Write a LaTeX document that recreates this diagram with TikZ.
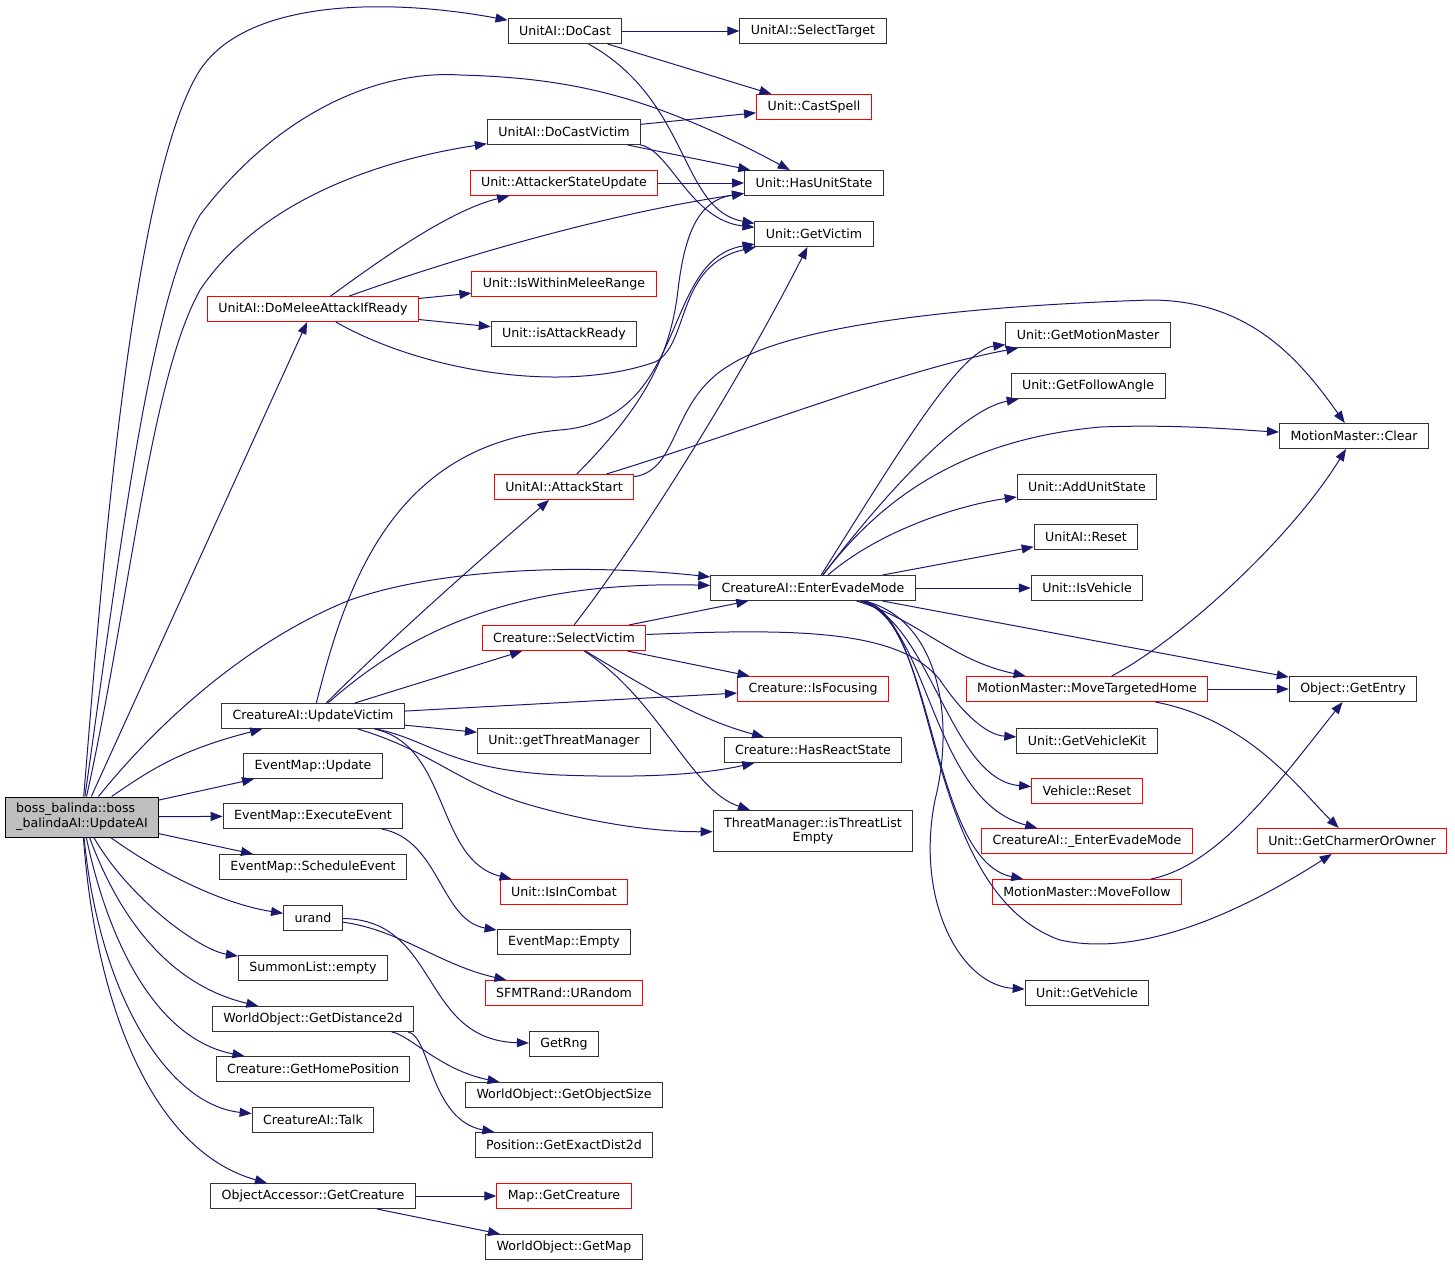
\documentclass[tikz,border=0pt]{standalone}
\usepackage{fontspec}
\setmainfont{DejaVu Sans}
\usetikzlibrary{arrows.meta,positioning}
\definecolor{edgeblue}{HTML}{191970}
\definecolor{rootgray}{HTML}{BFBFBF}
\tikzset{
  fn/.style={draw=black!80,line width=1pt,rectangle,inner xsep=11pt,inner ysep=0pt,
    minimum height=25pt,font=\fontsize{12.6}{15}\selectfont},
  fnred/.style={fn,draw=red},
  call/.style={draw=edgeblue,line width=1pt,-{Triangle[length=12pt,width=9pt]}}
}
\begin{document}
\begin{tikzpicture}[x=1pt,y=-1pt]
            \path[use as bounding box] (0,0) rectangle (1455,1267);

            \node [fn,fill=rootgray,draw=black,align=left,minimum height=40pt,inner xsep=10.5pt] (root) at (82,817)
                {boss\_balinda::boss\\\_balindaAI::UpdateAI};

            \node [fn] (docast) at (565,31) {UnitAI::DoCast};
            \node [fn] (selecttarget) at (813,31) {UnitAI::SelectTarget};
            \node [fnred] (castspell) at (814,107) {Unit::CastSpell};
            \node [fn] (docastvictim) at (564,132) {UnitAI::DoCastVictim};
            \node [fnred] (attackerstate) at (564,183) {Unit::AttackerStateUpdate};
            \node [fn] (hasunitstate) at (814,183) {Unit::HasUnitState};
            \node [fn] (getvictim) at (814,234) {Unit::GetVictim};
            \node [fnred] (domelee) at (313,309) {UnitAI::DoMeleeAttackIfReady};
            \node [fnred] (withinmelee) at (564,284) {Unit::IsWithinMeleeRange};
            \node [fn] (attackready) at (564,334) {Unit::isAttackReady};
            \node [fn] (getmotionmaster) at (1088,335) {Unit::GetMotionMaster};
            \node [fn] (followangle) at (1088,386) {Unit::GetFollowAngle};
            \node [fn] (mmclear) at (1354,436) {MotionMaster::Clear};
            \node [fn] (addunitstate) at (1087,487) {Unit::AddUnitState};
            \node [fn] (aireset) at (1086,537) {UnitAI::Reset};
            \node [fn] (isvehicle) at (1087,588) {Unit::IsVehicle};
            \node [fnred] (attackstart) at (564,487) {UnitAI::AttackStart};
            \node [fn] (evademode) at (813,588) {CreatureAI::EnterEvadeMode};
            \node [fnred] (selectvictim) at (564,638) {Creature::SelectVictim};
            \node [fnred] (isfocusing) at (813,689) {Creature::IsFocusing};
            \node [fn] (updatevictim) at (313,716) {CreatureAI::UpdateVictim};
            \node [fn] (threatmgr) at (564,741) {Unit::getThreatManager};
            \node [fn] (reactstate) at (813,750) {Creature::HasReactState};
            \node [fn,align=center,minimum height=41pt,font=\fontsize{12.6}{14}\selectfont] (threatempty) at (813,831)
                {ThreatManager::isThreatList\\Empty};
            \node [fnred] (targetedhome) at (1087,689) {MotionMaster::MoveTargetedHome};
            \node [fn] (getentry) at (1353,689) {Object::GetEntry};
            \node [fn] (vehiclekit) at (1087,741) {Unit::GetVehicleKit};
            \node [fnred] (vehiclereset) at (1087,791) {Vehicle::Reset};
            \node [fnred] (innerevade) at (1087,841) {CreatureAI::\_EnterEvadeMode};
            \node [fnred] (charmer) at (1352,841) {Unit::GetCharmerOrOwner};
            \node [fnred] (movefollow) at (1087,892) {MotionMaster::MoveFollow};
            \node [fn] (getvehicle) at (1087,993) {Unit::GetVehicle};

            \node [fn] (emupdate) at (313,766) {EventMap::Update};
            \node [fn] (executeevent) at (313,816) {EventMap::ExecuteEvent};
            \node [fn] (scheduleevent) at (313,867) {EventMap::ScheduleEvent};
            \node [fn] (urand) at (313,918) {urand};
            \node [fn] (summonempty) at (313,968) {SummonList::empty};
            \node [fn] (distance2d) at (313,1019) {WorldObject::GetDistance2d};
            \node [fn] (homeposition) at (313,1069) {Creature::GetHomePosition};
            \node [fn] (talk) at (313,1120) {CreatureAI::Talk};
            \node [fn] (getcreature) at (313,1196) {ObjectAccessor::GetCreature};
            \node [fnred] (isincombat) at (564,892) {Unit::IsInCombat};
            \node [fn] (emempty) at (564,942) {EventMap::Empty};
            \node [fnred] (urandom) at (564,993) {SFMTRand::URandom};
            \node [fn] (getrng) at (564,1044) {GetRng};
            \node [fn] (objectsize) at (564,1095) {WorldObject::GetObjectSize};
            \node [fn] (exactdist) at (564,1145) {Position::GetExactDist2d};
            \node [fnred] (mapcreature) at (564,1196) {Map::GetCreature};
            \node [fn] (getmap) at (564,1247) {WorldObject::GetMap};

            \draw [call] (root) .. controls (100,600) and (130,180) .. (200,70)
                .. controls (250,-5) and (400,0) .. (docast);
            \draw [call] (root) .. controls (120,550) and (150,300) .. (200,215)
                .. controls (280,110) and (380,70) .. (460,75)
                .. controls (570,78) and (650,95) .. (hasunitstate);
            \draw [call] (root) .. controls (130,600) and (150,380) .. (200,290)
                .. controls (260,200) and (380,160) .. (docastvictim);
            \draw [call] (root) -- (domelee);
            \draw [call] (root) .. controls (160,720) and (250,640) .. (350,600)
                .. controls (450,565) and (600,565) .. (evademode);
            \draw [call] (root) .. controls (150,770) and (180,750) .. (updatevictim);
            \draw [call] (root) -- (emupdate);
            \draw [call] (root) -- (executeevent);
            \draw [call] (root) -- (scheduleevent);
            \draw [call] (root) .. controls (170,880) and (230,905) .. (urand);
            \draw [call] (root) .. controls (130,900) and (200,950) .. (summonempty);
            \draw [call] (root) .. controls (120,920) and (170,985) .. (distance2d);
            \draw [call] (root) .. controls (110,950) and (160,1040) .. (homeposition);
            \draw [call] (root) .. controls (100,1000) and (170,1105) .. (talk);
            \draw [call] (root) .. controls (95,1000) and (150,1150) .. (getcreature);

            \draw [call] (docast) -- (selecttarget);
            \draw [call] (docast) -- (castspell);
            \draw [call] (docast) .. controls (690,100) and (680,210) .. (getvictim);
            \draw [call] (docastvictim) -- (castspell);
            \draw [call] (docastvictim) -- (hasunitstate);
            \draw [call] (docastvictim) .. controls (670,150) and (690,220) .. (getvictim);
            \draw [call] (attackerstate) -- (hasunitstate);

            \draw [call] (domelee) .. controls (380,260) and (450,210) .. (attackerstate);
            \draw [call] (domelee) .. controls (450,260) and (600,215) .. (hasunitstate);
            \draw [call] (domelee) -- (withinmelee);
            \draw [call] (domelee) -- (attackready);
            \draw [call] (domelee) .. controls (420,370) and (560,395) .. (655,362)
                .. controls (690,345) and (675,265) .. (getvictim);

            \draw [call] (attackstart) .. controls (640,410) and (670,360) .. (678,290)
                .. controls (685,230) and (700,200) .. (hasunitstate);
            \draw [call] (attackstart) .. controls (750,430) and (900,370) .. (getmotionmaster);
            \draw [call] (attackstart) .. controls (680,470) and (670,400) .. (730,365)
                .. controls (800,320) and (1000,305) .. (1150,300)
                .. controls (1250,300) and (1300,360) .. (mmclear);

            \draw [call] (updatevictim) .. controls (345,590) and (390,445) .. (560,430)
                .. controls (690,420) and (660,260) .. (getvictim);
            \draw [call] (updatevictim) .. controls (400,630) and (480,560) .. (attackstart);
            \draw [call] (updatevictim) .. controls (400,640) and (500,580) .. (evademode);
            \draw [call] (updatevictim) -- (selectvictim);
            \draw [call] (updatevictim) -- (isfocusing);
            \draw [call] (updatevictim) -- (threatmgr);
            \draw [call] (updatevictim) .. controls (430,740) and (450,770) .. (560,775)
                .. controls (640,778) and (700,775) .. (reactstate);
            \draw [call] (updatevictim) .. controls (430,750) and (460,785) .. (530,805)
                .. controls (600,825) and (660,832) .. (threatempty);
            \draw [call] (updatevictim) .. controls (450,745) and (435,860) .. (isincombat);

            \draw [call] (selectvictim) -- (evademode);
            \draw [call] (selectvictim) -- (isfocusing);
            \draw [call] (selectvictim) .. controls (650,690) and (700,720) .. (reactstate);
            \draw [call] (selectvictim) .. controls (660,700) and (690,790) .. (threatempty);
            \draw [call] (selectvictim) .. controls (640,540) and (740,380) .. (getvictim);
            \draw [call] (selectvictim) .. controls (800,628) and (900,630) .. (940,680)
                .. controls (960,710) and (985,735) .. (vehiclekit);

            \draw [call] (evademode) .. controls (900,450) and (960,350) .. (getmotionmaster);
            \draw [call] (evademode) .. controls (880,500) and (960,410) .. (followangle);
            \draw [call] (evademode) .. controls (880,500) and (960,440) .. (1100,427)
                .. controls (1180,424) and (1240,430) .. (mmclear);
            \draw [call] (evademode) .. controls (880,530) and (960,505) .. (addunitstate);
            \draw [call] (evademode) -- (aireset);
            \draw [call] (evademode) -- (isvehicle);
            \draw [call] (evademode) -- (getentry);
            \draw [call] (evademode) .. controls (920,620) and (950,660) .. (targetedhome);
            \draw [call] (evademode) .. controls (930,620) and (950,780) .. (vehiclereset);
            \draw [call] (evademode) .. controls (930,620) and (930,800) .. (innerevade);
            \draw [call] (evademode) .. controls (935,620) and (930,860) .. (movefollow);
            \draw [call] (evademode) .. controls (940,620) and (920,890) .. (1060,940)
                .. controls (1150,960) and (1260,900) .. (charmer);
            \draw [call] (evademode) .. controls (940,620) and (955,720) .. (935,800)
                .. controls (915,900) and (960,985) .. (getvehicle);

            \draw [call] (targetedhome) -- (getentry);
            \draw [call] (targetedhome) .. controls (1180,640) and (1290,540) .. (mmclear);
            \draw [call] (targetedhome) .. controls (1250,720) and (1300,790) .. (charmer);
            \draw [call] (movefollow) .. controls (1220,865) and (1280,780) .. (getentry);

            \draw [call] (executeevent) .. controls (440,840) and (440,920) .. (emempty);
            \draw [call] (urand) .. controls (400,930) and (440,965) .. (urandom);
            \draw [call] (urand) .. controls (440,920) and (420,1040) .. (getrng);
            \draw [call] (distance2d) .. controls (410,1035) and (440,1070) .. (objectsize);
            \draw [call] (distance2d) .. controls (430,1035) and (430,1120) .. (exactdist);
            \draw [call] (getcreature) -- (mapcreature);
            \draw [call] (getcreature) -- (getmap);
\end{tikzpicture}
\end{document}
